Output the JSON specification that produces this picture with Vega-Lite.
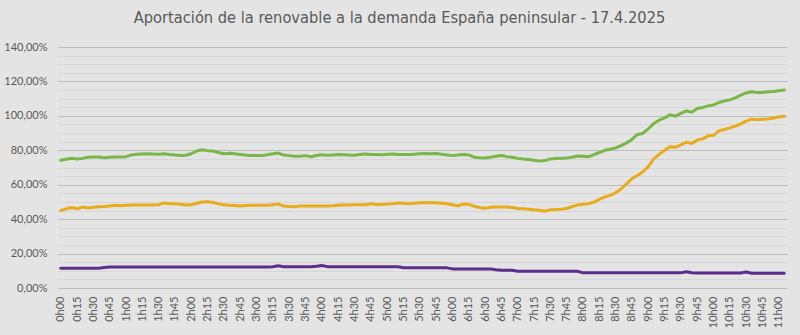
{
  "$schema": "https://vega.github.io/schema/vega-lite/v6.json",
  "autosize": "none",
  "width": 729,
  "height": 241,
  "padding": {"left": 58, "top": 47, "right": 13, "bottom": 47},
  "background": "#e4e4e4",
  "config": {"view": {"stroke": null}},
  "title": {
    "text": "Aportación de la renovable a la demanda España peninsular - 17.4.2025",
    "font": "Liberation Sans Narrow, DejaVu Sans Condensed, sans-serif",
    "fontSize": 16.3,
    "fontWeight": "normal",
    "color": "#595959",
    "anchor": "middle",
    "dx": -23,
    "offset": 15
  },
  "datasets": {
    "d": [
      {"m":0,"verde":74.2,"amarillo":44.9,"morado":11.5},
      {"m":5,"verde":74.8,"amarillo":46.0,"morado":11.5},
      {"m":10,"verde":75.4,"amarillo":46.8,"morado":11.5},
      {"m":15,"verde":75.0,"amarillo":46.0,"morado":11.5},
      {"m":20,"verde":75.3,"amarillo":47.0,"morado":11.5},
      {"m":25,"verde":75.9,"amarillo":46.5,"morado":11.5},
      {"m":30,"verde":76.1,"amarillo":46.9,"morado":11.5},
      {"m":35,"verde":76.1,"amarillo":47.2,"morado":11.5},
      {"m":40,"verde":75.6,"amarillo":47.4,"morado":11.9},
      {"m":45,"verde":76.0,"amarillo":47.7,"morado":12.2},
      {"m":50,"verde":76.1,"amarillo":48.0,"morado":12.2},
      {"m":55,"verde":76.1,"amarillo":47.8,"morado":12.2},
      {"m":60,"verde":76.3,"amarillo":48.0,"morado":12.2},
      {"m":65,"verde":77.3,"amarillo":48.2,"morado":12.2},
      {"m":70,"verde":77.7,"amarillo":48.2,"morado":12.2},
      {"m":75,"verde":77.9,"amarillo":48.2,"morado":12.2},
      {"m":80,"verde":78.0,"amarillo":48.2,"morado":12.2},
      {"m":85,"verde":77.8,"amarillo":48.2,"morado":12.2},
      {"m":90,"verde":77.7,"amarillo":48.4,"morado":12.2},
      {"m":95,"verde":78.0,"amarillo":49.4,"morado":12.2},
      {"m":100,"verde":77.6,"amarillo":48.9,"morado":12.2},
      {"m":105,"verde":77.3,"amarillo":48.9,"morado":12.2},
      {"m":110,"verde":77.0,"amarillo":48.6,"morado":12.2},
      {"m":115,"verde":77.1,"amarillo":48.2,"morado":12.2},
      {"m":120,"verde":78.0,"amarillo":48.3,"morado":12.2},
      {"m":125,"verde":79.6,"amarillo":49.2,"morado":12.2},
      {"m":130,"verde":80.3,"amarillo":50.0,"morado":12.2},
      {"m":135,"verde":79.8,"amarillo":50.1,"morado":12.2},
      {"m":140,"verde":79.6,"amarillo":49.7,"morado":12.2},
      {"m":145,"verde":78.7,"amarillo":48.9,"morado":12.2},
      {"m":150,"verde":78.0,"amarillo":48.3,"morado":12.2},
      {"m":155,"verde":78.3,"amarillo":48.0,"morado":12.2},
      {"m":160,"verde":78.0,"amarillo":47.9,"morado":12.2},
      {"m":165,"verde":77.6,"amarillo":47.6,"morado":12.2},
      {"m":170,"verde":77.2,"amarillo":47.9,"morado":12.2},
      {"m":175,"verde":76.9,"amarillo":48.0,"morado":12.2},
      {"m":180,"verde":76.9,"amarillo":48.0,"morado":12.2},
      {"m":185,"verde":76.9,"amarillo":48.0,"morado":12.2},
      {"m":190,"verde":77.4,"amarillo":48.0,"morado":12.2},
      {"m":195,"verde":78.0,"amarillo":48.4,"morado":12.3},
      {"m":200,"verde":78.4,"amarillo":48.8,"morado":12.9},
      {"m":205,"verde":77.2,"amarillo":47.6,"morado":12.4},
      {"m":210,"verde":76.9,"amarillo":47.3,"morado":12.3},
      {"m":215,"verde":76.5,"amarillo":47.2,"morado":12.3},
      {"m":220,"verde":76.5,"amarillo":47.6,"morado":12.3},
      {"m":225,"verde":76.9,"amarillo":47.7,"morado":12.3},
      {"m":230,"verde":76.2,"amarillo":47.6,"morado":12.4},
      {"m":235,"verde":77.0,"amarillo":47.6,"morado":12.6},
      {"m":240,"verde":77.4,"amarillo":47.6,"morado":13.1},
      {"m":245,"verde":77.1,"amarillo":47.7,"morado":12.4},
      {"m":250,"verde":77.3,"amarillo":47.8,"morado":12.3},
      {"m":255,"verde":77.5,"amarillo":48.0,"morado":12.3},
      {"m":260,"verde":77.4,"amarillo":48.2,"morado":12.3},
      {"m":265,"verde":77.2,"amarillo":48.2,"morado":12.3},
      {"m":270,"verde":77.1,"amarillo":48.3,"morado":12.3},
      {"m":275,"verde":77.5,"amarillo":48.3,"morado":12.3},
      {"m":280,"verde":77.8,"amarillo":48.4,"morado":12.3},
      {"m":285,"verde":77.6,"amarillo":48.9,"morado":12.3},
      {"m":290,"verde":77.5,"amarillo":48.5,"morado":12.3},
      {"m":295,"verde":77.4,"amarillo":48.5,"morado":12.3},
      {"m":300,"verde":77.7,"amarillo":48.8,"morado":12.3},
      {"m":305,"verde":77.9,"amarillo":49.0,"morado":12.3},
      {"m":310,"verde":77.6,"amarillo":49.4,"morado":12.3},
      {"m":315,"verde":77.5,"amarillo":49.2,"morado":11.8},
      {"m":320,"verde":77.5,"amarillo":48.9,"morado":11.7},
      {"m":325,"verde":77.7,"amarillo":49.3,"morado":11.7},
      {"m":330,"verde":78.0,"amarillo":49.5,"morado":11.7},
      {"m":335,"verde":78.1,"amarillo":49.5,"morado":11.7},
      {"m":340,"verde":78.0,"amarillo":49.5,"morado":11.7},
      {"m":345,"verde":78.1,"amarillo":49.5,"morado":11.7},
      {"m":350,"verde":77.7,"amarillo":49.2,"morado":11.7},
      {"m":355,"verde":77.3,"amarillo":48.9,"morado":11.7},
      {"m":360,"verde":76.9,"amarillo":48.4,"morado":11.1},
      {"m":365,"verde":77.2,"amarillo":47.7,"morado":11.1},
      {"m":370,"verde":77.6,"amarillo":48.8,"morado":11.1},
      {"m":375,"verde":77.3,"amarillo":48.6,"morado":11.1},
      {"m":380,"verde":75.9,"amarillo":47.5,"morado":11.1},
      {"m":385,"verde":75.6,"amarillo":46.8,"morado":11.1},
      {"m":390,"verde":75.5,"amarillo":46.3,"morado":11.1},
      {"m":395,"verde":76.0,"amarillo":46.9,"morado":11.1},
      {"m":400,"verde":76.5,"amarillo":47.0,"morado":10.6},
      {"m":405,"verde":77.0,"amarillo":47.0,"morado":10.3},
      {"m":410,"verde":76.3,"amarillo":47.0,"morado":10.3},
      {"m":415,"verde":75.9,"amarillo":46.8,"morado":10.3},
      {"m":420,"verde":75.3,"amarillo":46.2,"morado":9.7},
      {"m":425,"verde":74.9,"amarillo":46.0,"morado":9.7},
      {"m":430,"verde":74.6,"amarillo":45.8,"morado":9.7},
      {"m":435,"verde":74.2,"amarillo":45.5,"morado":9.7},
      {"m":440,"verde":73.7,"amarillo":45.2,"morado":9.7},
      {"m":445,"verde":74.0,"amarillo":44.6,"morado":9.7},
      {"m":450,"verde":75.0,"amarillo":45.5,"morado":9.7},
      {"m":455,"verde":75.2,"amarillo":45.6,"morado":9.7},
      {"m":460,"verde":75.4,"amarillo":45.7,"morado":9.7},
      {"m":465,"verde":75.5,"amarillo":46.2,"morado":9.7},
      {"m":470,"verde":76.0,"amarillo":47.3,"morado":9.7},
      {"m":475,"verde":76.7,"amarillo":48.2,"morado":9.7},
      {"m":480,"verde":76.6,"amarillo":48.6,"morado":8.8},
      {"m":485,"verde":76.2,"amarillo":49.0,"morado":8.8},
      {"m":490,"verde":77.5,"amarillo":49.8,"morado":8.8},
      {"m":495,"verde":78.7,"amarillo":51.5,"morado":8.8},
      {"m":500,"verde":80.0,"amarillo":52.9,"morado":8.8},
      {"m":505,"verde":80.6,"amarillo":53.8,"morado":8.8},
      {"m":510,"verde":81.4,"amarillo":55.3,"morado":8.8},
      {"m":515,"verde":82.7,"amarillo":57.5,"morado":8.8},
      {"m":520,"verde":84.3,"amarillo":60.5,"morado":8.8},
      {"m":525,"verde":86.3,"amarillo":63.5,"morado":8.8},
      {"m":530,"verde":89.2,"amarillo":65.4,"morado":8.8},
      {"m":535,"verde":89.8,"amarillo":67.5,"morado":8.8},
      {"m":540,"verde":92.5,"amarillo":70.5,"morado":8.8},
      {"m":545,"verde":95.5,"amarillo":75.0,"morado":8.8},
      {"m":550,"verde":97.5,"amarillo":77.6,"morado":8.8},
      {"m":555,"verde":98.8,"amarillo":80.0,"morado":8.8},
      {"m":560,"verde":100.6,"amarillo":82.1,"morado":8.8},
      {"m":565,"verde":99.8,"amarillo":81.7,"morado":8.8},
      {"m":570,"verde":101.4,"amarillo":83.1,"morado":8.8},
      {"m":575,"verde":102.9,"amarillo":84.7,"morado":9.4},
      {"m":580,"verde":102.1,"amarillo":83.9,"morado":8.9},
      {"m":585,"verde":104.3,"amarillo":86.0,"morado":8.7},
      {"m":590,"verde":104.9,"amarillo":86.6,"morado":8.7},
      {"m":595,"verde":105.8,"amarillo":88.4,"morado":8.7},
      {"m":600,"verde":106.3,"amarillo":88.7,"morado":8.7},
      {"m":605,"verde":107.8,"amarillo":91.3,"morado":8.7},
      {"m":610,"verde":108.6,"amarillo":92.1,"morado":8.7},
      {"m":615,"verde":109.3,"amarillo":93.0,"morado":8.7},
      {"m":620,"verde":110.4,"amarillo":94.0,"morado":8.7},
      {"m":625,"verde":112.0,"amarillo":95.3,"morado":8.7},
      {"m":630,"verde":113.3,"amarillo":96.9,"morado":9.3},
      {"m":635,"verde":114.0,"amarillo":98.1,"morado":8.6},
      {"m":640,"verde":113.5,"amarillo":97.7,"morado":8.6},
      {"m":645,"verde":113.6,"amarillo":98.0,"morado":8.6},
      {"m":650,"verde":114.0,"amarillo":98.2,"morado":8.6},
      {"m":655,"verde":114.2,"amarillo":98.8,"morado":8.6},
      {"m":660,"verde":114.6,"amarillo":99.3,"morado":8.6},
      {"m":665,"verde":115.0,"amarillo":99.8,"morado":8.6}
    ]
  },
  "data": {"name": "d"},
  "transform": [
    {"fold": ["verde", "amarillo", "morado"], "as": ["serie", "valor"]}
  ],
  "mark": {"type": "line", "strokeWidth": 3, "strokeJoin": "round", "strokeCap": "round"},
  "encoding": {
    "x": {
      "field": "m",
      "type": "quantitative",
      "scale": {"domain": [-2.5, 667.5], "nice": false, "zero": false},
      "axis": {
        "title": null,
        "values": [0,15,30,45,60,75,90,105,120,135,150,165,180,195,210,225,240,255,270,285,300,315,330,345,360,375,390,405,420,435,450,465,480,495,510,525,540,555,570,585,600,615,630,645,660],
        "labelExpr": "floor(datum.value/60) + 'h' + (datum.value % 60 < 10 ? '0' : '') + (datum.value % 60)",
        "labelAngle": -90,
        "labelAlign": "right",
        "labelBaseline": "middle",
        "labelPadding": 8,
        "labelFont": "Lato, sans-serif",
        "labelFontSize": 11,
        "labelColor": "#595959",
        "labelFlush": false,
        "labelOverlap": false,
        "grid": false,
        "ticks": false,
        "domain": false
      }
    },
    "y": {
      "field": "valor",
      "type": "quantitative",
      "scale": {"domain": [0, 140], "nice": false},
      "axis": {
        "title": null,
        "values": [0,5,10,15,20,25,30,35,40,45,50,55,60,65,70,75,80,85,90,95,100,105,110,115,120,125,130,135,140],
        "labelExpr": "datum.value % 20 === 0 ? replace(format(datum.value, '.2f'), '.', ',') + '%' : ''",
        "labelFont": "Lato, sans-serif",
        "labelFontSize": 11,
        "labelColor": "#595959",
        "labelPadding": 11,
        "ticks": false,
        "domain": false,
        "gridColor": {"condition": {"test": "datum.value % 20 === 0", "value": "#bcbcbc"}, "value": "#d6d6d6"},
        "gridWidth": 1
      }
    },
    "color": {
      "field": "serie",
      "type": "nominal",
      "scale": {"domain": ["verde", "amarillo", "morado"], "range": ["#7ab648", "#e8ab1b", "#5e2d8c"]},
      "legend": null
    }
  }
}
